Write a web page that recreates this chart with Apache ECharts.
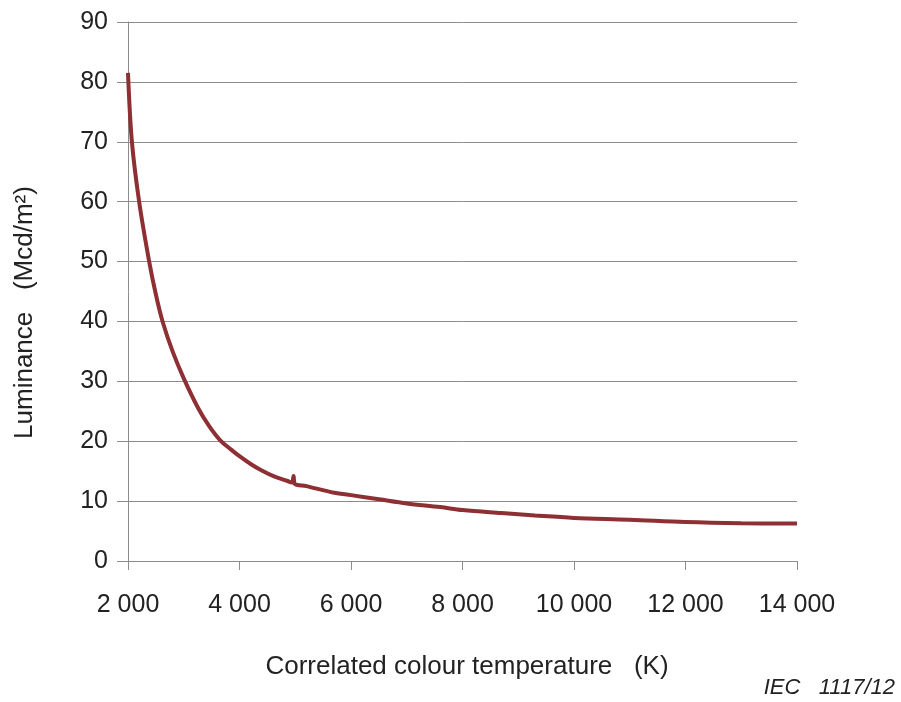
<!DOCTYPE html>
<html>
<head>
<meta charset="utf-8">
<script src="https://cdn.jsdelivr.net/npm/echarts@6/dist/echarts.min.js"></script>
<style>
  html, body { margin: 0; padding: 0; background: #fff; }
  #chart { width: 901px; height: 702px; }
</style>
</head>
<body>
<div id="chart"></div>
<script>
// colour temperature (K)
var temps = [2000, 2070, 2200, 2380, 2500, 2620, 2800, 3000, 3260, 3450, 3650, 3850, 4000,
  4200, 4400, 4600, 4850, 4940, 4970, 4990, 5200, 5700, 6000, 6500, 7000, 7600, 8000,
  8700, 9300, 10000, 11000, 12000, 13000, 14000];
// luminance (Mcd/m2)
var luminance = [81.5, 70, 60, 50, 44.5, 40, 35, 30.5, 25.5, 22.6, 20.2, 18.6, 17.5,
  16.2, 15.1, 14.2, 13.4, 13.1, 14.2, 12.9, 12.5, 11.4, 11.0, 10.3, 9.6, 9.0, 8.5,
  8.0, 7.6, 7.2, 6.9, 6.5, 6.3, 6.25];
var yTicks = [0, 10, 20, 30, 40, 50, 60, 70, 80, 90];

var font = '"Liberation Sans", Arial, sans-serif';
var textColor = '#222';
var gray = '#8c8c8c';

var points = temps.map(function (t, i) { return [t, luminance[i]]; });

var chart = echarts.init(document.getElementById('chart'));
chart.setOption({
  animation: false,
  grid: { left: 128, right: 104, top: 22, bottom: 141, containLabel: false },
  xAxis: {
    type: 'value',
    min: 2000,
    max: 14000,
    interval: 2000,
    name: 'Correlated colour temperature   (K)',
    nameLocation: 'middle',
    nameGap: 93,
    nameTextStyle: { fontFamily: font, fontSize: 26, color: textColor, padding: [0, 0, 0, 9] },
    axisLine: { show: true, lineStyle: { color: gray, width: 1 } },
    axisTick: { show: true, length: 9, lineStyle: { color: gray } },
    axisLabel: {
      margin: 32,
      fontFamily: font,
      fontSize: 25,
      color: textColor,
      formatter: function (v) { return (v / 1000) + ' 000'; }
    },
    splitLine: { show: false }
  },
  yAxis: {
    type: 'value',
    min: 0,
    max: 90,
    interval: 10,
    name: 'Luminance   (Mcd/m²)',
    nameLocation: 'middle',
    nameGap: 90,
    nameTextStyle: { fontFamily: font, fontSize: 26, color: textColor, padding: [0, 42, 0, 0] },
    axisLine: { show: true, lineStyle: { color: gray, width: 1 } },
    axisTick: { show: true, length: 11, lineStyle: { color: gray } },
    axisLabel: {
      margin: 20,
      fontFamily: font,
      fontSize: 25,
      color: textColor,
      formatter: function (v) { return yTicks.indexOf(v) >= 0 ? String(v) : ''; }
    },
    splitLine: { show: true, lineStyle: { color: gray, width: 1 } }
  },
  series: [{
    type: 'line',
    data: points,
    showSymbol: false,
    smooth: 0.35,
    lineStyle: { color: '#8e2f33', width: 4 },
    z: 3
  }],
  graphic: [{
    type: 'text',
    right: 6,
    top: 677,
    style: {
      text: 'IEC   1117/12',
      font: 'italic 22px ' + font,
      fill: textColor
    }
  }]
});
</script>
</body>
</html>
